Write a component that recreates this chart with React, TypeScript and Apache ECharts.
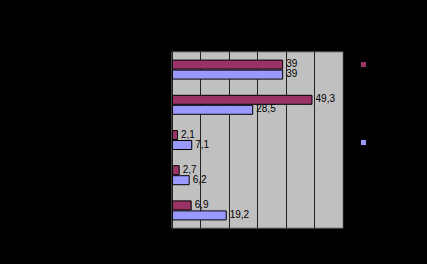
import React, { useEffect, useRef } from "react";
import * as echarts from "echarts";

const categories = ["1", "2", "3", "4", "5"];
const series1Values = [39, 49.3, 2.1, 2.7, 6.9];
const series2Values = [39, 28.5, 7.1, 6.2, 19.2];
const seriesNames = ["Série 1", "Série 2"];
const valueTicks = { min: 0, max: 60, interval: 10 };

export default function App() {
  const ref = useRef<HTMLDivElement>(null);
  useEffect(() => {
    document.body.style.margin = "0";
    document.body.style.background = "#000";
    const chart = echarts.init(ref.current!, null, { renderer: "svg" });
    const fmt = (p: any) => String(p.value).replace(".", ",");
    const label = {
      show: true,
      position: "right" as const,
      distance: 3,
      offset: [0, -1],
      color: "#000",
      fontFamily: "Liberation Sans",
      fontSize: 10,
      lineHeight: 9,
      formatter: fmt,
    };
    chart.setOption({
      animation: false,
      backgroundColor: "#000",
      grid: {
        left: 172,
        top: 52,
        width: 171,
        height: 176,
        show: true,
        backgroundColor: "#C0C0C0",
        borderColor: "#808080",
        borderWidth: 1,
      },
      legend: {
        orient: "vertical",
        left: 359,
        top: 59,
        padding: 0,
        itemWidth: 7,
        itemHeight: 7,
        itemGap: 67,
        icon: "rect",
        textStyle: { color: "#000", fontSize: 11, fontFamily: "Liberation Sans" },
        data: seriesNames,
      },
      xAxis: {
        type: "value",
        min: valueTicks.min,
        max: valueTicks.max,
        interval: valueTicks.interval,
        axisLine: { show: false },
        axisTick: { show: false },
        axisLabel: { color: "#000", fontSize: 11, fontFamily: "Liberation Sans" },
        splitLine: { show: true, lineStyle: { color: "#222", width: 1 } },
      },
      yAxis: {
        type: "category",
        data: categories,
        inverse: true,
        axisLine: { show: false },
        axisTick: { show: false },
        axisLabel: { show: false },
        splitLine: { show: false },
      },
      series: [
        {
          name: seriesNames[0],
          type: "bar",
          data: series1Values,
          barWidth: 10,
          barGap: "0%",
          itemStyle: { color: "#993366", borderColor: "#000", borderWidth: 1 },
          label,
        },
        {
          name: seriesNames[1],
          type: "bar",
          data: series2Values,
          barWidth: 10,
          barGap: "0%",
          itemStyle: { color: "#9999FF", borderColor: "#000", borderWidth: 1 },
          label,
        },
      ],
    });
    return () => chart.dispose();
  }, []);
  return <div ref={ref} style={{ width: 427, height: 264 }} />;
}
